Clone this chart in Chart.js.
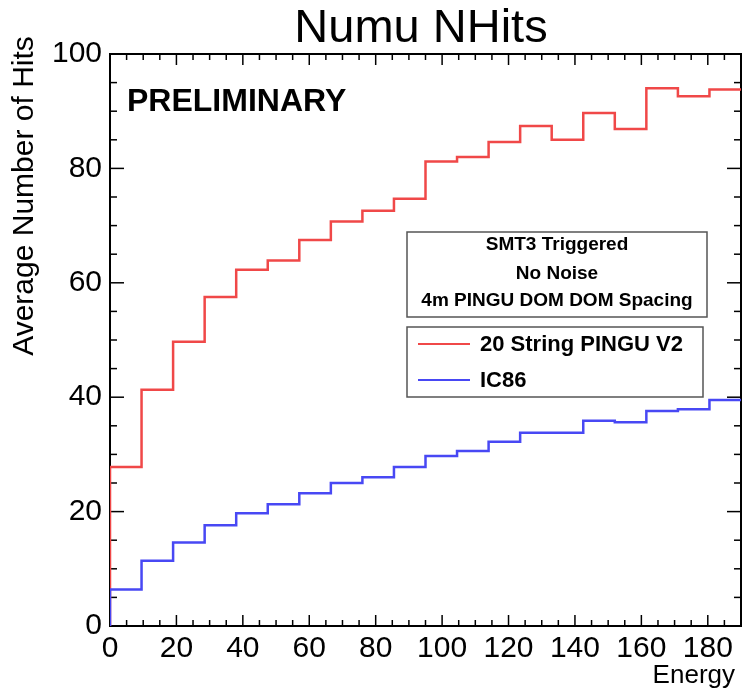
<!DOCTYPE html>
<html>
<head>
<meta charset="utf-8">
<title>Numu NHits</title>
<script src="https://cdn.jsdelivr.net/npm/chart.js@4"></script>
<style>
  html, body { margin: 0; padding: 0; background: #fff; }
  #wrap { width: 742px; height: 690px; }
</style>
</head>
<body>
<div id="wrap"><canvas id="nhitsChart" width="742" height="690"></canvas></div>
<script>
// --- datos del histograma ---
const binEdges = [0, 9.5, 19, 28.5, 38, 47.5, 57, 66.5, 76, 85.5, 95,
                  104.5, 114, 123.5, 133, 142.5, 152, 161.5, 171, 180.5, 190];
const pinguHits = [27.8, 41.3, 49.7, 57.5, 62.3, 63.9, 67.5, 70.7, 72.6, 74.7,
                   81.2, 82.0, 84.6, 87.4, 85.0, 89.7, 86.9, 94.0, 92.6, 93.8];
const ic86Hits = [6.4, 11.4, 14.6, 17.6, 19.7, 21.3, 23.2, 25.0, 26.0, 27.8,
                  29.7, 30.6, 32.2, 33.8, 33.8, 35.9, 35.6, 37.6, 37.9, 39.5];
const xTicks = [0, 20, 40, 60, 80, 100, 120, 140, 160, 180];
const yTicks = [0, 20, 40, 60, 80, 100];
const seriesLabels = ['20 String PINGU V2', 'IC86'];
const infoLines = ['SMT3 Triggered', 'No Noise', '4m PINGU DOM DOM Spacing'];

const FONT = '"Liberation Sans", Arial, Helvetica, sans-serif';
const RED = '#f04848';
const BLUE = '#4848f4';

// contorno del histograma: sube desde cero en el primer borde
function histPoints(values) {
    const pts = [{ x: binEdges[0], y: 0 }];
    values.forEach((v, i) => pts.push({ x: binEdges[i], y: v }));
    pts.push({ x: binEdges[binEdges.length - 1], y: values[values.length - 1] });
    return pts;
}

function line(ctx, x1, y1, x2, y2) {
    ctx.beginPath();
    ctx.moveTo(x1, y1);
    ctx.lineTo(x2, y2);
    ctx.stroke();
}

// marco, ticks y textos al estilo ROOT
const rootStyle = {
    id: 'rootStyle',
    beforeDatasetsDraw(chart) {
        const { ctx, chartArea: a, scales: { x, y } } = chart;
        ctx.save();

        // ticks menores cada 5, mayores en los valores de etiqueta
        ctx.strokeStyle = '#000';
        ctx.lineWidth = 1.5;
        for (let v = x.min; v <= x.max; v += 5) {
            const px = x.getPixelForValue(v);
            const len = xTicks.includes(v) ? 11 : 6;
            line(ctx, px, a.bottom, px, a.bottom - len);
            line(ctx, px, a.top, px, a.top + len);
        }
        for (let v = y.min; v <= y.max; v += 5) {
            const py = y.getPixelForValue(v);
            const len = yTicks.includes(v) ? 14 : 7;
            line(ctx, a.left, py, a.left + len, py);
            line(ctx, a.right, py, a.right - len, py);
        }

        // marco
        ctx.lineWidth = 2;
        ctx.strokeRect(a.left, a.top, a.right - a.left, a.bottom - a.top);
        ctx.restore();
    },
    afterDatasetsDraw(chart) {
        const { ctx } = chart;
        ctx.save();

        // titulo
        ctx.fillStyle = '#000';
        ctx.textBaseline = 'alphabetic';
        ctx.textAlign = 'center';
        ctx.font = '47px ' + FONT;
        ctx.fillText('Numu NHits', 421, 42);

        // PRELIMINARY
        ctx.textAlign = 'left';
        ctx.font = 'bold 32px ' + FONT;
        ctx.fillText('PRELIMINARY', 127, 111);

        // titulos de ejes
        ctx.font = '26px ' + FONT;
        ctx.textAlign = 'right';
        ctx.fillText('Energy', 735, 683);

        ctx.save();
        ctx.translate(33, 196);
        ctx.rotate(-Math.PI / 2);
        ctx.textAlign = 'center';
        ctx.font = '30px ' + FONT;
        ctx.fillText('Average Number of Hits', 0, 0);
        ctx.restore();

        // caja de informacion
        ctx.fillStyle = '#fff';
        ctx.strokeStyle = '#555';
        ctx.lineWidth = 1.5;
        ctx.fillRect(407, 232, 300, 85);
        ctx.strokeRect(407, 232, 300, 85);
        ctx.fillStyle = '#000';
        ctx.textAlign = 'center';
        ctx.textBaseline = 'middle';
        ctx.font = 'bold 19px ' + FONT;
        const infoY = [245, 274, 301];
        infoLines.forEach((t, i) => ctx.fillText(t, 557, infoY[i]));

        // leyenda
        ctx.fillStyle = '#fff';
        ctx.fillRect(407, 327, 296, 70);
        ctx.strokeRect(407, 327, 296, 70);
        ctx.font = 'bold 22px ' + FONT;
        ctx.textAlign = 'left';
        const legendY = [344, 380];
        const legendColors = [RED, BLUE];
        seriesLabels.forEach((t, i) => {
            ctx.strokeStyle = legendColors[i];
            ctx.lineWidth = 2;
            line(ctx, 418, legendY[i], 470, legendY[i]);
            ctx.fillStyle = '#000';
            ctx.fillText(t, 480, legendY[i] + 1);
        });

        ctx.restore();
    }
};

document.addEventListener('DOMContentLoaded', function() {
    const ctx = document.getElementById('nhitsChart').getContext('2d');
    new Chart(ctx, {
        type: 'line',
        data: {
            datasets: [
                {
                    label: seriesLabels[1],
                    data: histPoints(ic86Hits),
                    borderColor: BLUE,
                    borderWidth: 2.5,
                    pointRadius: 0,
                    stepped: true,
                    fill: false
                },
                {
                    label: seriesLabels[0],
                    data: histPoints(pinguHits),
                    borderColor: RED,
                    borderWidth: 2.5,
                    pointRadius: 0,
                    stepped: true,
                    fill: false
                }
            ]
        },
        options: {
            responsive: false,
            animation: false,
            layout: { padding: { top: 54, right: 1, left: 0, bottom: 0 } },
            plugins: {
                legend: { display: false },
                title: { display: false },
                tooltip: { enabled: false }
            },
            scales: {
                x: {
                    type: 'linear',
                    min: binEdges[0],
                    max: binEdges[binEdges.length - 1],
                    grid: { display: false, drawTicks: false },
                    border: { display: false },
                    afterFit: function(scale) { scale.height = 64; },
                    afterBuildTicks: function(scale) {
                        scale.ticks = xTicks.map(v => ({ value: v }));
                    },
                    ticks: {
                        autoSkip: false,
                        maxRotation: 0,
                        padding: 5,
                        color: '#000',
                        font: { family: FONT, size: 30 }
                    }
                },
                y: {
                    min: yTicks[0],
                    max: yTicks[yTicks.length - 1],
                    grid: { display: false, drawTicks: false },
                    border: { display: false },
                    afterFit: function(scale) { scale.width = 110; },
                    afterBuildTicks: function(scale) {
                        scale.ticks = yTicks.map(v => ({ value: v }));
                    },
                    ticks: {
                        padding: 8,
                        color: '#000',
                        font: { family: FONT, size: 30 }
                    }
                }
            }
        },
        plugins: [rootStyle]
    });
});
</script>
</body>
</html>
